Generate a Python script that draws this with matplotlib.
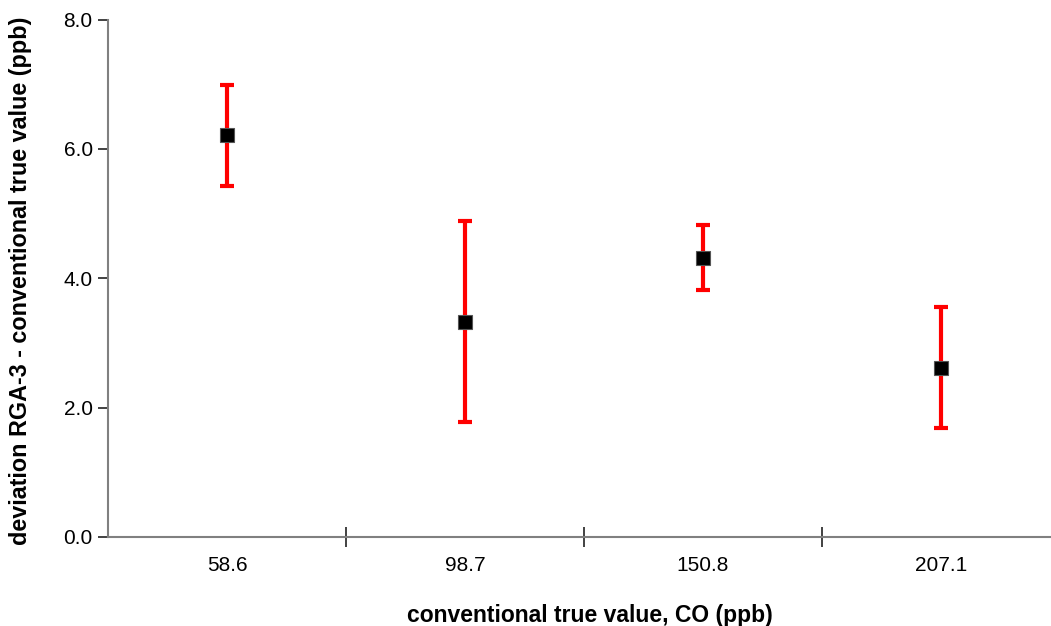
import matplotlib.pyplot as plt
from matplotlib.ticker import FormatStrFormatter

plt.rcParams['font.family'] = ['Liberation Sans', 'DejaVu Sans']

# Data
categories = ["58.6", "98.7", "150.8", "207.1"]
deviation = [6.21, 3.33, 4.32, 2.62]
uncertainty = [0.78, 1.55, 0.50, 0.94]

fig = plt.figure(figsize=(10.51, 6.26), dpi=100)
ax = fig.add_axes([108 / 1051, 1 - 537 / 626, 952 / 1051, 517.5 / 626])

x = list(range(len(categories)))
ax.errorbar(x, deviation, yerr=uncertainty, fmt='none', ecolor='#ff0000',
            elinewidth=3, capsize=4.8, capthick=3, zorder=2)
ax.plot(x, deviation, linestyle='none', marker='s', markersize=10,
        markerfacecolor='black', markeredgecolor='#555555', markeredgewidth=0.8, zorder=3)

ax.set_xlim(-0.5, len(categories) - 0.5)
ax.set_ylim(0, 8)
ax.set_yticks([0, 2, 4, 6, 8])
ax.yaxis.set_major_formatter(FormatStrFormatter('%.1f'))

# ticks between categories
ax.set_xticks([i + 0.5 for i in range(len(categories))])
ax.set_xticklabels([])
ax.set_xticks(x, minor=True)
ax.set_xticklabels(categories, minor=True)
ax.tick_params(axis='x', which='minor', length=0, pad=14, labelsize=15)
ax.tick_params(axis='x', which='major', direction='inout', length=14, width=1.3, color='#333333')
ax.tick_params(axis='y', direction='out', length=7, width=1.3, color='#333333', labelsize=15, pad=4)

for side in ['top', 'right']:
    ax.spines[side].set_visible(False)
for side in ['left', 'bottom']:
    ax.spines[side].set_color('#808080')
    ax.spines[side].set_linewidth(1.5)

ax.set_xlabel('conventional true value, CO (ppb)', fontsize=16.5, fontweight='bold')
ax.set_ylabel('deviation RGA-3 - conventional true value (ppb)', fontsize=16.8, fontweight='bold')
ax.xaxis.set_label_coords(482 / 952, -(604 - 537) / 517.5)
ax.yaxis.set_label_coords(-(108 - 32) / 952, (537 - 281) / 517.5)

fig.savefig('out.png', dpi=100)
